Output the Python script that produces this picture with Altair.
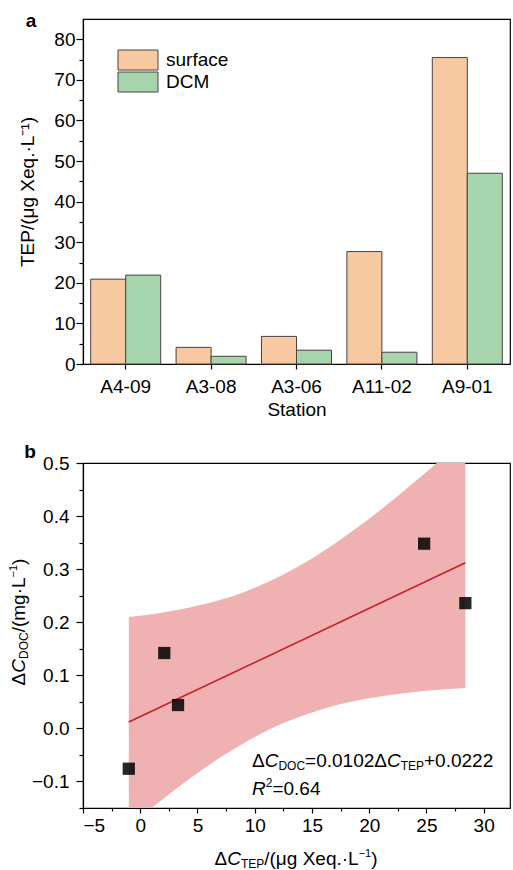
import altair as alt
import pandas as pd

FONT = "Liberation Sans"
FS = 19

# ---------------- data: panel a ----------------
stations = ["A4-09", "A3-08", "A3-06", "A11-02", "A9-01"]
surface = [20.9, 4.1, 6.8, 27.7, 75.5]
dcm = [21.9, 1.9, 3.4, 2.9, 47.0]
series = ["surface", "DCM"]
colors = ["#F6C9A0", "#A5D4AD"]

# ---------------- data: panel b ----------------
d_tep = [-1.0, 2.1, 3.3, 24.8, 28.4]
d_doc = [-0.076, 0.142, 0.044, 0.348, 0.236]
fit_x = [-1.0, 28.4]
fit_y = [0.012, 0.312]
band_x = [-1.0, 1.0, 3.0, 5.0, 7.5, 10.0, 12.5, 15.0, 17.5, 20.0, 22.5, 25.0, 28.4]
band_lo = [-0.186, -0.150, -0.116, -0.084, -0.048, -0.016, 0.010, 0.030, 0.046, 0.057, 0.065, 0.071, 0.076]
band_hi = [0.210, 0.215, 0.222, 0.231, 0.245, 0.265, 0.290, 0.320, 0.356, 0.395, 0.438, 0.483, 0.548]

# ---------------- text metrics helper (Arial-like advance widths) ----------------
ADV = {' ': 278, '(': 333, ')': 333, '/': 278, '.': 278, '·': 333, '=': 584, '+': 584,
       '−': 584, '-': 333, 'Δ': 668, 'C': 722, 'D': 722, 'O': 778, 'T': 611, 'E': 667,
       'P': 667, 'R': 722, 'X': 667, 'L': 556, 'm': 833, 'g': 556, 'e': 556, 'q': 556,
       'μ': 576}


def tw(s, size):
    return sum(ADV.get(ch, 556) for ch in s) * size / 1000.0


def rich(pieces, x0, y0, angle=0, center=False):
    """pieces: (text, size, style, shift) ; shift>0 means down (subscript)."""
    total = sum(tw(t, s) for t, s, _, _ in pieces)
    layers = []
    pos = -total / 2 if center else 0.0
    for t, s, st, sh in pieces:
        if angle == 0:
            px, py = x0 + pos, y0 + sh
        else:  # 270: text runs upward, "down" maps to +x
            px, py = x0 + sh, y0 - pos
        layers.append(
            alt.Chart(pd.DataFrame({"t": [t]})).mark_text(
                align="left", baseline="alphabetic", font=FONT, fontSize=s,
                fontStyle=st, color="black", angle=angle,
            ).encode(x=alt.value(px), y=alt.value(py), text="t:N")
        )
        pos += tw(t, s)
    return layers


W, H = 427, 345
MAJ, MIN = 7, 4

# ---------------- panel a ----------------
bar_df = pd.DataFrame({
    "station": stations * 2,
    "series": [series[0]] * len(stations) + [series[1]] * len(stations),
    "value": surface + dcm,
})

bars = alt.Chart(bar_df).mark_bar(stroke="#4d4040", strokeWidth=1).encode(
    x=alt.X("station:N", sort=stations,
            scale=alt.Scale(paddingInner=0.18, paddingOuter=0.09),
            axis=alt.Axis(title="Station", labelAngle=0, tickSize=5, labelPadding=8,
                          titlePadding=4)),
    xOffset=alt.XOffset("series:N", sort=series,
                        scale=alt.Scale(paddingInner=0, paddingOuter=0)),
    y=alt.Y("value:Q", scale=alt.Scale(domain=[0, 85], nice=False),
            axis=alt.Axis(title="TEP/(μg Xeq.·L⁻¹)", values=list(range(0, 85, 5)),
                          labelExpr="datum.value % 10 === 0 ? datum.label : ''",
                          tickSize={"condition": {"test": "datum.value % 10 !== 0", "value": MIN},
                                    "value": MAJ},
                          labelPadding=1, titlePadding=16)),
    color=alt.Color("series:N", scale=alt.Scale(domain=series, range=colors), legend=None),
)

leg_layers = []
for i, (name, col) in enumerate(zip(series, colors)):
    y0 = 31 + i * 22
    d = pd.DataFrame({"series": [name]})
    leg_layers.append(alt.Chart(d).mark_rect(fill=col, stroke="#4d4040", strokeWidth=1).encode(
        x=alt.value(35), x2=alt.value(75), y=alt.value(y0), y2=alt.value(y0 + 20)))
    leg_layers.append(alt.Chart(d).mark_text(align="left", baseline="middle", font=FONT,
                                             fontSize=FS, color="black").encode(
        x=alt.value(83), y=alt.value(y0 + 10), text="series:N"))

lab_a = alt.Chart(pd.DataFrame({"t": ["a"]})).mark_text(
    font=FONT, fontSize=FS, fontWeight="bold", align="center", baseline="alphabetic",
    color="black").encode(x=alt.value(-52), y=alt.value(8), text="t:N")

top = alt.layer(bars, *leg_layers, lab_a).properties(width=W, height=H)

# ---------------- panel b ----------------
band_df = pd.DataFrame({"x": band_x, "lo": band_lo, "hi": band_hi})
pts_df = pd.DataFrame({"x": d_tep, "y": d_doc})
fit_df = pd.DataFrame({"x": fit_x, "y": fit_y})

xs = alt.Scale(domain=[-5, 32.3], nice=False, zero=False)
ys = alt.Scale(domain=[-0.15, 0.5], nice=False, zero=False)
xvals = [-5 + 2.5 * i for i in range(15)]
yvals = [round(-0.15 + 0.05 * i, 2) for i in range(14)]

YMAJ = "abs(datum.value*10 - round(datum.value*10)) < 0.01"
xaxis = alt.Axis(title=None, values=xvals,
                 labelExpr="datum.value % 5 === 0 ? format(datum.value, 'd') : ''",
                 tickSize={"condition": {"test": "datum.value % 5 !== 0", "value": MIN - 1},
                           "value": MAJ - 2},
                 labelPadding=3)
yaxis = alt.Axis(title=None, values=yvals,
                 labelExpr=f"({YMAJ}) ? format(datum.value, '.1f') : ''",
                 tickSize={"condition": {"test": f"!({YMAJ})", "value": MIN},
                           "value": MAJ},
                 labelPadding=7)

X = alt.X("x:Q", scale=xs, axis=xaxis)
band = alt.Chart(band_df).mark_area(color="#F0B1B3", clip=True, interpolate="monotone").encode(
    x=X, y=alt.Y("lo:Q", scale=ys, axis=yaxis), y2="hi:Q")
fit = alt.Chart(fit_df).mark_line(color="#C8202A", strokeWidth=1.6, clip=True).encode(
    x=X, y=alt.Y("y:Q", scale=ys, axis=yaxis))
pts = alt.Chart(pts_df).mark_point(shape="square", filled=True, size=150, color="black",
                                   opacity=0.85).encode(
    x=X, y=alt.Y("y:Q", scale=ys, axis=yaxis))

lab_b = alt.Chart(pd.DataFrame({"t": ["b"]})).mark_text(
    font=FONT, fontSize=FS, fontWeight="bold", align="center", baseline="alphabetic",
    color="black").encode(x=alt.value(-53), y=alt.value(-5), text="t:N")

SUB, SUP = 3, -8
eq1 = rich([("Δ", FS, "normal", 0), ("C", FS, "italic", 0), ("DOC", 12, "normal", SUB),
            ("=0.0102Δ", FS, "normal", 0), ("C", FS, "italic", 0), ("TEP", 12, "normal", SUB),
            ("+0.0222", FS, "normal", 0)], 169, 304)
eq2 = rich([("R", FS, "italic", 0), ("2", 12, "normal", SUP), ("=0.64", FS, "normal", 0)], 169, 332)
xtitle = rich([("Δ", FS, "normal", 0), ("C", FS, "italic", 0), ("TEP", 12, "normal", SUB),
               ("/(μg Xeq.·L", FS, "normal", 0), ("−1", 11, "normal", SUP),
               (")", FS, "normal", 0)], 213, 402, center=True)
ytitle = rich([("Δ", FS, "normal", 0), ("C", FS, "italic", 0), ("DOC", 12, "normal", SUB),
               ("/(mg·L", FS, "normal", 0), ("−1", 11, "normal", SUP),
               (")", FS, "normal", 0)], -58, 159, angle=270, center=True)

bottom = alt.layer(band, fit, pts, lab_b, *eq1, *eq2, *xtitle, *ytitle).properties(width=W, height=H)

chart = alt.vconcat(top, bottom, spacing=22).properties(
    padding={"left": 7, "top": 11, "right": 0, "bottom": 0}
).configure_view(stroke="black", strokeWidth=1.2).configure_axis(
    domainColor="black", domainWidth=1.2, tickColor="black", tickWidth=1.2,
    labelColor="black", labelFont=FONT, labelFontSize=FS, titleColor="black",
    titleFont=FONT, titleFontSize=FS, titleFontWeight="normal", grid=False,
).configure_concat(spacing=22)

chart.save("out.html", embed_options={"renderer": "svg", "actions": False})
